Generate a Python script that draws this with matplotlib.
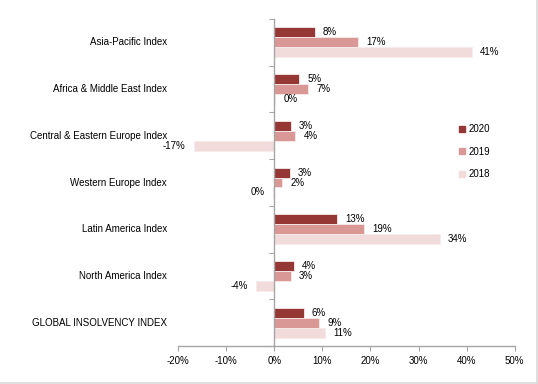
import matplotlib
matplotlib.use("Agg")
import matplotlib.pyplot as plt
import numpy as np
from matplotlib.lines import Line2D

categories = [
    "Asia-Pacific Index",
    "Africa & Middle East Index",
    "Central & Eastern Europe Index",
    "Western Europe Index",
    "Latin America Index",
    "North America Index",
    "GLOBAL INSOLVENCY INDEX",
]
years = ["2020", "2019", "2018"]
vals_2020 = [8.4, 5.1, 3.4, 3.2, 13.0, 4.1, 6.1]
vals_2019 = [17.4, 7.1, 4.4, 1.6, 18.6, 3.4, 9.3]
vals_2018 = [41.1, 0.2, -16.7, -0.2, 34.4, -3.8, 10.6]
x_ticks = [-20, -10, 0, 10, 20, 30, 40, 50]

colors = ["#953735", "#d99795", "#f2dcdb"]
plt.rcParams["font.family"] = ["Liberation Sans", "DejaVu Sans"]
fs = 7

fig = plt.figure(figsize=(5.38, 3.84), dpi=100)
ax = fig.add_axes([178 / 538, 1 - 346 / 384, (514.7 - 178) / 538, (346 - 19) / 384])

y = np.arange(len(categories))
h = 0.214
series = [vals_2020, vals_2019, vals_2018]
for k, (vals, c, lab) in enumerate(zip(series, colors, years)):
    pos = y + (k - 1) * h
    ax.barh(pos, vals, height=h, color=c, edgecolor="#f7eaea", linewidth=0.6, label=lab)
    for p, v in zip(pos, vals):
        txt = f"{round(v):.0f}%"
        if v >= 0:
            ax.annotate(txt, (v, p), xytext=(6, 0), textcoords="offset points",
                        ha="left", va="center", fontsize=fs)
        else:
            ax.annotate(txt, (v, p), xytext=(-6, 0), textcoords="offset points",
                        ha="right", va="center", fontsize=fs)

ax.set_xlim(-20, 50)
ax.set_ylim(len(categories) - 0.5, -0.5)
ax.set_xticks(x_ticks)
ax.set_xticklabels([f"{t}%" for t in x_ticks], fontsize=fs)
ax.tick_params(axis="x", length=3.5, width=0.8, color="#a6a6a6", pad=4)

# vertical axis sits on zero
ax.spines["left"].set_position(("data", 0))
ax.set_yticks([])
ax.set_yticks(np.arange(-0.5, len(categories)), minor=True)
ax.tick_params(axis="y", which="minor", length=3.5, width=0.8, color="#a6a6a6")
for s in ["top", "right"]:
    ax.spines[s].set_visible(False)
for s in ["left", "bottom"]:
    ax.spines[s].set_color("#a6a6a6")
    ax.spines[s].set_linewidth(1.0)

trans = ax.get_yaxis_transform()
for yi, cat in zip(y, categories):
    ax.annotate(cat, (0, yi), xycoords=trans, xytext=(-8, 0), textcoords="offset points",
                ha="right", va="center", fontsize=fs)

handles = [Line2D([], [], marker="s", linestyle="", color=c, markersize=4.5) for c in colors]
fig.legend(handles, years, loc="upper left", bbox_to_anchor=(458 / 538, 1 - 124 / 384),
           frameon=False, fontsize=fs, handlelength=0.8, handletextpad=0.3,
           labelspacing=1.3, borderpad=0, borderaxespad=0)

# light frame on the right and bottom edges
fig.add_artist(Line2D([0.998, 0.998], [0.002, 1], transform=fig.transFigure, color="#d9d9d9", lw=1.2))
fig.add_artist(Line2D([0, 0.998], [0.002, 0.002], transform=fig.transFigure, color="#d9d9d9", lw=1.2))

fig.savefig("out.png", dpi=100)
